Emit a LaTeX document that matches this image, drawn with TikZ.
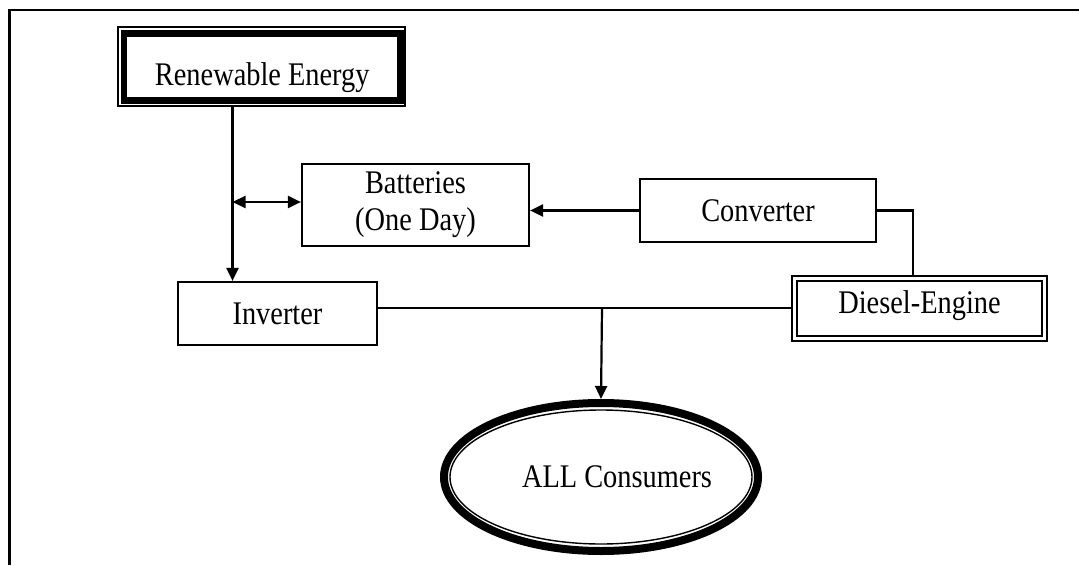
\documentclass[tikz,border=0pt]{standalone}
\usepackage{fontspec}
\newfontfamily\diagfont[FakeStretch=0.86]{Liberation Serif}
\usetikzlibrary{arrows.meta,shapes.geometric}

\begin{document}
\begin{tikzpicture}[x=1pt,y=-1pt,
  txt/.style={font=\diagfont\fontsize{33}{37}\selectfont, align=center, inner sep=0pt},
  box/.style={txt, draw, line width=2.2pt},
  link/.style={line width=2.2pt},
  tip/.tip={Triangle[length=13pt,width=12pt]},
  arr/.style={link, -tip},
  frame/.style={line width=2.2pt}]
\useasboundingbox (0,0) rectangle (1079,565);

% page frame (open on the right and bottom)
\draw[frame] (9.5,565) -- (9.5,10) -- (1079,10);

% renewable source: thin outer frame around a heavy box
\node[draw, line width=1.6pt, inner sep=0pt, minimum width=287.5pt, minimum height=79.5pt] (reout) at (261.5,66.5) {};
\node[box, line width=6.5pt, minimum width=276.5pt, minimum height=67pt, text height=36pt, text depth=0pt] (re) at (262.25,67) {Renewable Energy};

\node[box, minimum width=227pt, minimum height=82pt] (bat) at (415.5,205) {Batteries\\(One Day)};
\node[box, minimum width=236pt, minimum height=63pt] (conv) at (758,210.5) {Converter};
\node[box, minimum width=199pt, minimum height=63pt] (inv) at (277.5,313.5) {Inverter};
\node[box, line width=1.7pt, double, double distance=3.2pt, outer sep=3.3pt,
      minimum width=250pt, minimum height=60pt, text height=22pt, text depth=13pt] (die) at (919.5,308.5) {Diesel-Engine};

% consumers: heavy ellipse with a thin inner ring
\node[ellipse, draw, line width=8pt, inner sep=0pt, minimum width=314pt, minimum height=148pt] (cons) at (601,477) {};
\draw[line width=1.4pt] (cons.center) ellipse [x radius=151pt, y radius=67pt];
\node[txt] (conslbl) at ([xshift=16pt]cons.center) {ALL Consumers};

% connections
\coordinate (tap) at (232.5,202);
\coordinate (bus) at (602,308);
\draw[arr] (reout.south -| tap) -- (inv.north -| tap);
\draw[link, tip-tip] (tap) -- (tap -| bat.west);
\draw[arr] (conv.west) -- (conv.west -| bat.east);
\draw[link] (conv.east) -| ([xshift=-6.5pt]die.north);
\draw[link] (inv.east |- bus) -- (die.west |- bus);
\draw[arr] (bus) -- (cons.north);
\end{tikzpicture}
\end{document}
